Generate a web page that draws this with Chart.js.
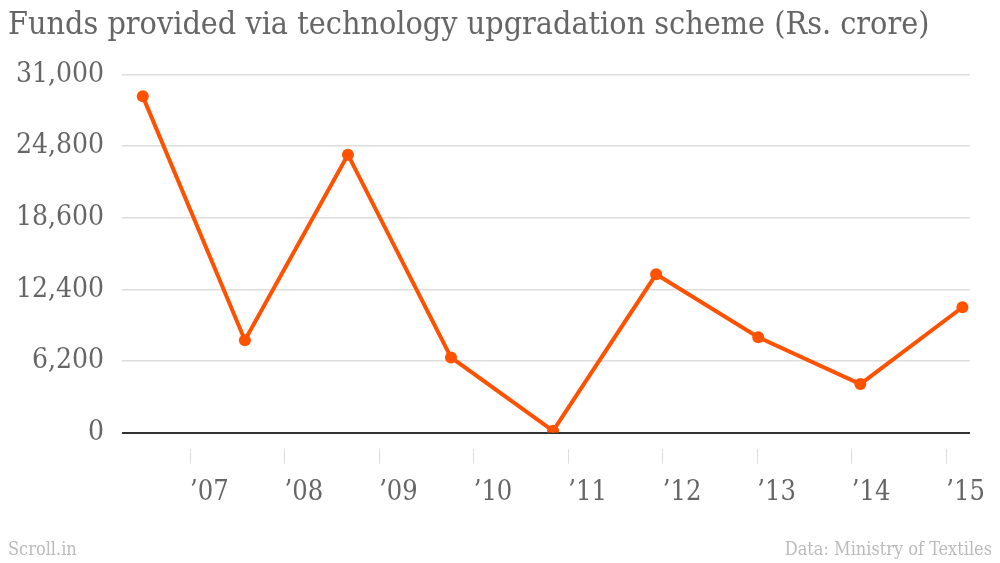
<!DOCTYPE html>
<html>
<head>
<meta charset="utf-8">
<script src="https://cdn.jsdelivr.net/npm/chart.js@4"></script>
<style>
  html, body { margin: 0; padding: 0; background: #fff; }
  #wrap { position: relative; width: 1000px; height: 563px; }
  .foot { position: absolute; top: 538px; font: 18px "DejaVu Serif Condensed", "Liberation Serif", serif; color: #bbb; }
</style>
</head>
<body>
<div id="wrap">
  <canvas id="fundsChart" width="1000" height="563"></canvas>
  <div class="foot" style="left:8px">Scroll.in</div>
  <div class="foot" style="right:8px">Data: Ministry of Textiles</div>
</div>
<script>
// Funds provided via technology upgradation scheme
const yearPositions = [2006.5, 2007.58, 2008.67, 2009.76, 2010.84, 2011.93, 2013.01, 2014.09, 2015.17];
const fundValues = [29100, 8000, 24050, 6500, 150, 13700, 8250, 4200, 10850];
const yearTicks = [2007, 2008, 2009, 2010, 2011, 2012, 2013, 2014, 2015];
const yearLabels = ['\u201907', '\u201908', '\u201909', '\u201910', '\u201911', '\u201912', '\u201913', '\u201914', '\u201915'];
const valueTicks = [0, 6200, 12400, 18600, 24800, 31000];

const FONT = '"DejaVu Serif Condensed", "Liberation Serif", serif';
const ORANGE = '#ff5200';

new Chart(document.getElementById('fundsChart'), {
    type: 'line',
    data: {
        datasets: [{
            data: yearPositions.map((x, i) => ({ x: x, y: fundValues[i] })),
            borderColor: ORANGE,
            backgroundColor: ORANGE,
            borderWidth: 4,
            pointRadius: 6,
            pointBorderWidth: 0,
            tension: 0
        }]
    },
    options: {
        responsive: false,
        animation: false,
        layout: { padding: { left: 8, right: 30, top: 0, bottom: 41 } },
        scales: {
            x: {
                type: 'linear',
                min: 2006.28,
                max: 2015.25,
                afterBuildTicks: scale => {
                    scale.ticks = yearTicks.map(v => ({ value: v }));
                },
                ticks: {
                    align: 'start',
                    padding: 13,
                    maxRotation: 0,
                    autoSkip: false,
                    color: '#666',
                    font: { family: FONT, size: 27 },
                    callback: v => yearLabels[yearTicks.indexOf(v)]
                },
                grid: {
                    drawOnChartArea: false,
                    tickLength: 31,
                    tickColor: '#ddd',
                    tickWidth: 1,
                    tickBorderDash: [15, 16],
                    tickBorderDashOffset: 15
                },
                border: { display: false }
            },
            y: {
                min: 0,
                max: 31000,
                afterBuildTicks: scale => {
                    scale.ticks = valueTicks.map(v => ({ value: v }));
                },
                afterFit: scale => {
                    scale.width = 114;
                },
                ticks: {
                    padding: 18,
                    color: '#666',
                    font: { family: FONT, size: 28 },
                    callback: v => v.toLocaleString('en-US')
                },
                grid: {
                    drawTicks: false,
                    color: ctx => ctx.tick && ctx.tick.value === 0 ? '#333' : '#ddd',
                    lineWidth: ctx => ctx.tick && ctx.tick.value === 0 ? 2 : 1.5
                },
                border: { display: false }
            }
        },
        plugins: {
            legend: { display: false },
            tooltip: { enabled: false },
            title: {
                display: true,
                text: 'Funds provided via technology upgradation scheme (Rs. crore)',
                align: 'start',
                color: '#666',
                font: { family: FONT, size: 32, weight: 'normal' },
                padding: { top: 6, bottom: 30 }
            }
        }
    }
});
</script>
</body>
</html>
